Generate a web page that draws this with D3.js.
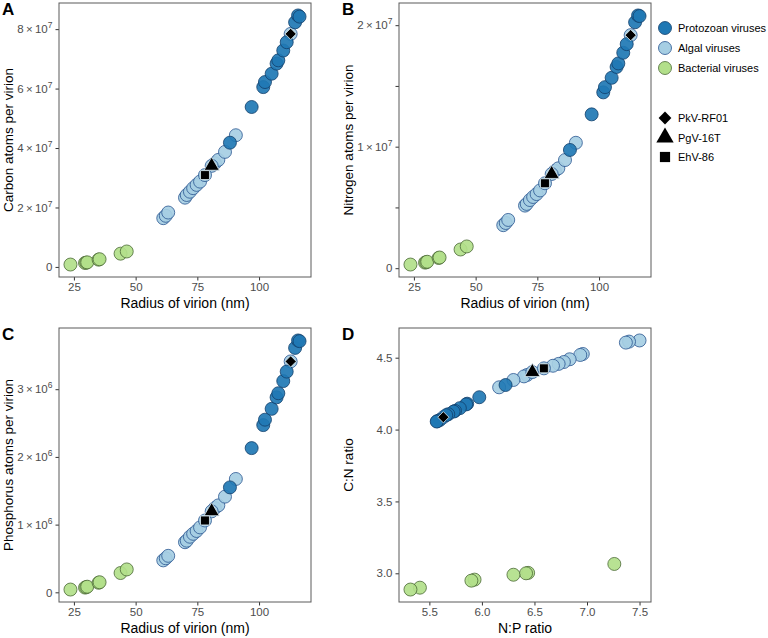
<!DOCTYPE html>
<html>
<head>
<meta charset="utf-8">
<script src="https://cdn.jsdelivr.net/npm/d3@7"></script>
<style>
  body { margin: 0; background: #fff; }
  svg { font-family: "Liberation Sans", Arial, sans-serif; }
  .tick text { fill: #4d4d4d; font-size: 11.5px; }
  .tick line { stroke: #333; }
</style>
</head>
<body>
<svg id="chart" width="768" height="638"></svg>
<script>
// one entry per virus
var group = [
  'Bacterial viruses','Bacterial viruses','Bacterial viruses','Bacterial viruses',
  'Bacterial viruses','Bacterial viruses','Bacterial viruses','Bacterial viruses',
  'Algal viruses','Algal viruses','Algal viruses','Algal viruses','Algal viruses',
  'Algal viruses','Algal viruses','Algal viruses','Algal viruses','Algal viruses',
  'Algal viruses','Algal viruses','Algal viruses',
  'Protozoan viruses','Protozoan viruses','Protozoan viruses','Protozoan viruses',
  'Protozoan viruses','Protozoan viruses','Protozoan viruses','Protozoan viruses',
  'Protozoan viruses','Protozoan viruses','Protozoan viruses','Protozoan viruses',
  'Algal viruses','Algal viruses','Algal viruses'
];
var strain = [
  null,null,null,null,null,null,null,null,
  null,null,null,null,null,null,null,null,null,null,null,null,null,
  null,null,null,null,null,null,null,null,null,null,null,null,
  'PkV-RF01','PgV-16T','EhV-86'
];
var radius = [
  23.6, 29.5, 30.0, 30.4, 35.0, 35.4, 43.9, 46.4,
  61.2, 62.2, 63.2, 70.0, 70.7, 72.0, 73.3, 74.7, 76.1, 82.1, 83.5, 86.2, 90.6,
  88.2, 97.0, 101.7, 102.4, 105.1, 107.1, 107.8, 109.8, 111.2, 114.6, 115.8, 116.4,
  112.8, 80.8, 78.1
];
var carbon = [
  8.0e5, 1.34e6, 1.44e6, 1.54e6, 2.45e6, 2.6e6, 4.46e6, 5.2e6,
  1.64e7, 1.72e7, 1.83e7, 2.33e7, 2.42e7, 2.53e7, 2.65e7, 2.76e7, 2.87e7, 3.49e7, 3.60e7, 3.87e7, 4.43e7,
  4.18e7, 5.38e7, 6.05e7, 6.22e7, 6.50e7, 6.84e7, 6.95e7, 7.28e7, 7.56e7, 8.23e7, 8.46e7, 8.42e7,
  7.84e7, 3.40e7, 3.09e7
];
var nitrogen = [
  3.0e5, 4.6e5, 4.9e5, 5.3e5, 8.4e5, 8.8e5, 1.54e6, 1.79e6,
  3.54e6, 3.72e6, 3.97e6, 5.15e6, 5.29e6, 5.61e6, 5.86e6, 6.1e6, 6.4e6, 8.0e6, 8.22e6, 8.9e6, 1.032e7,
  9.73e6, 1.266e7, 1.447e7, 1.49e7, 1.567e7, 1.656e7, 1.685e7, 1.773e7, 1.844e7, 2.024e7, 2.08e7, 2.075e7,
  1.918e7, 7.75e6, 6.99e6
];
var phosphorus = [
  4.1e4, 7.0e4, 7.6e4, 8.3e4, 1.41e5, 1.49e5, 2.85e5, 3.38e5,
  4.72e5, 5.03e5, 5.39e5, 7.4e5, 7.63e5, 8.21e5, 8.64e5, 9.06e5, 9.59e5, 1.244e6, 1.284e6, 1.413e6, 1.674e6,
  1.55e6, 2.13e6, 2.47e6, 2.55e6, 2.71e6, 2.88e6, 2.94e6, 3.12e6, 3.26e6, 3.61e6, 3.72e6, 3.71e6,
  3.41e6, 1.196e6, 1.061e6
];
var npRatio = [
  7.26, 6.44, 6.42, 6.30, 5.93, 5.90, 5.41, 5.32,
  7.50, 7.40, 7.37, 6.96, 6.936, 6.835, 6.78, 6.73, 6.676, 6.43, 6.40, 6.30, 6.164,
  6.225, 5.975, 5.86, 5.85, 5.79, 5.744, 5.73, 5.68, 5.66, 5.60, 5.575, 5.57,
  5.633, 6.48, 6.59
];
var cnRatio = [
  3.065, 3.003, 3.000, 2.99, 2.956, 2.949, 2.90, 2.887,
  4.62, 4.612, 4.605, 4.526, 4.519, 4.489, 4.47, 4.457, 4.444, 4.38, 4.37, 4.345, 4.294,
  4.31, 4.225, 4.18, 4.175, 4.149, 4.13, 4.125, 4.107, 4.10, 4.067, 4.058, 4.056,
  4.086, 4.40, 4.426
];

var groups = ['Protozoan viruses', 'Algal viruses', 'Bacterial viruses'];
var strains = ['PkV-RF01', 'PgV-16T', 'EhV-86'];

var radiusTicks = [25, 50, 75, 100];
var carbonTicks = [0, 2e7, 4e7, 6e7, 8e7];
var carbonTickLabels = ['0', '2×10^7', '4×10^7', '6×10^7', '8×10^7'];
var nitrogenTicks = [0, 5e6, 1e7, 1.5e7, 2e7];
var nitrogenTickLabels = ['0', '', '1×10^7', '', '2×10^7'];
var phosphorusTicks = [0, 1e6, 2e6, 3e6];
var phosphorusTickLabels = ['0', '1×10^6', '2×10^6', '3×10^6'];
var npTicks = [5.5, 6.0, 6.5, 7.0, 7.5];
var cnTicks = [3.0, 3.5, 4.0, 4.5];

var fill = d3.scaleOrdinal(groups, ['#1f78b4', '#a6cee3', '#b2df8a']);
var edge = d3.scaleOrdinal(groups, ['#123f6b', '#2a5690', '#4b6a36']);
var symbol = d3.scaleOrdinal(strains, [d3.symbolDiamond2, d3.symbolTriangle, d3.symbolSquare]);
var symbolSize = d3.scaleOrdinal(strains, [80, 100, 80]);

// ggplot-style 5% padding
function pad(ext) {
  var d = (ext[1] - ext[0]) * 0.05;
  return [ext[0] - d, ext[1] + d];
}

var rows = radius.map(function (r, i) {
  return { group: group[i], strain: strain[i], radius: r, C: carbon[i], N: nitrogen[i],
           P: phosphorus[i], np: npRatio[i], cn: cnRatio[i] };
});

var svg = d3.select('#chart');
var W = 252, H = 274;

var panels = [
  { tag: 'A', left: 59, top: 3, xv: 'radius', yv: 'C', xt: radiusTicks, yt: carbonTicks, yl: carbonTickLabels,
    xTitle: 'Radius of virion (nm)', yTitle: 'Carbon atoms per virion' },
  { tag: 'B', left: 399, top: 3, xv: 'radius', yv: 'N', xt: radiusTicks, yt: nitrogenTicks, yl: nitrogenTickLabels,
    xTitle: 'Radius of virion (nm)', yTitle: 'Nitrogen atoms per virion' },
  { tag: 'C', left: 59, top: 328, xv: 'radius', yv: 'P', xt: radiusTicks, yt: phosphorusTicks, yl: phosphorusTickLabels,
    xTitle: 'Radius of virion (nm)', yTitle: 'Phosphorus atoms per virion' },
  { tag: 'D', left: 399, top: 328, xv: 'np', yv: 'cn', xt: npTicks, yt: cnTicks, yl: cnTicks.map(d3.format('.1f')),
    xTitle: 'N:P ratio', yTitle: 'C:N ratio' }
];

// "8×10^7" -> text with a superscript
function writeLabel(sel, s) {
  sel.text(null);
  var parts = s.split('^');
  sel.append('tspan').text(parts[0].replace('×', '\u2009×\u2009'));
  if (parts[1]) {
    sel.append('tspan').attr('dy', -5).attr('font-size', 8.5).text(parts[1]);
  }
}

panels.forEach(function (p) {
  var x = d3.scaleLinear().domain(pad(d3.extent(rows, function (d) { return d[p.xv]; }))).range([p.left, p.left + W]);
  var y = d3.scaleLinear().domain(pad(d3.extent(rows, function (d) { return d[p.yv]; }))).range([p.top + H, p.top]);

  var g = svg.append('g');

  var xAxis = g.append('g')
    .attr('transform', 'translate(0,' + (p.top + H) + ')')
    .call(d3.axisBottom(x).tickValues(p.xt).tickSize(3.5).tickPadding(2.5)
      .tickFormat(p.xv === 'np' ? d3.format('.1f') : d3.format('d')));
  xAxis.select('.domain').remove();

  var yAxis = g.append('g')
    .attr('transform', 'translate(' + p.left + ',0)')
    .call(d3.axisLeft(y).tickValues(p.yt).tickSize(3.5).tickPadding(3).tickFormat(''));
  yAxis.select('.domain').remove();
  yAxis.selectAll('.tick text').each(function (d, i) {
    writeLabel(d3.select(this), String(p.yl[i]));
  });

  g.append('rect')
    .attr('x', p.left).attr('y', p.top).attr('width', W).attr('height', H)
    .attr('fill', 'none').attr('stroke', '#5a5a5a').attr('stroke-width', 1);

  var pts = g.append('g');
  // draw bacterial, then algal, then protozoan so the large ones sit on top
  ['Bacterial viruses', 'Algal viruses', 'Protozoan viruses'].forEach(function (k) {
    pts.selectAll(null)
      .data(rows.filter(function (d) { return d.group === k; }))
      .enter().append('circle')
      .attr('cx', function (d) { return x(d[p.xv]); })
      .attr('cy', function (d) { return y(d[p.yv]); })
      .attr('r', 6.5)
      .attr('fill', fill(k))
      .attr('fill-opacity', 0.92)
      .attr('stroke', edge(k))
      .attr('stroke-width', 0.8);
  });

  pts.selectAll(null)
    .data(rows.filter(function (d) { return d.strain; }))
    .enter().append('path')
    .attr('transform', function (d) { return 'translate(' + x(d[p.xv]) + ',' + y(d[p.yv]) + ')'; })
    .attr('d', function (d) { return d3.symbol(symbol(d.strain), symbolSize(d.strain))(); })
    .attr('fill', '#000')
    .attr('stroke', '#dcecf5')
    .attr('stroke-width', 0.8);

  g.append('text')
    .attr('x', p.left + W / 2).attr('y', p.top + H + 31)
    .attr('text-anchor', 'middle').attr('font-size', 14)
    .text(p.xTitle);

  g.append('text')
    .attr('transform', 'translate(' + (p.left - 46) + ',' + (p.top + H / 2) + ') rotate(-90)')
    .attr('text-anchor', 'middle').attr('font-size', 13.5)
    .text(p.yTitle);

  g.append('text')
    .attr('x', p.left - 57).attr('y', p.top + 12)
    .attr('font-size', 17).attr('font-weight', 'bold')
    .text(p.tag);
});

// legend
var legend = svg.append('g').attr('font-size', 11);
groups.forEach(function (k, i) {
  var cy = 28 + i * 20;
  legend.append('circle').attr('cx', 665).attr('cy', cy).attr('r', 6.5)
    .attr('fill', fill(k)).attr('stroke', edge(k)).attr('stroke-width', 0.8);
  legend.append('text').attr('x', 678).attr('y', cy + 4).text(k);
});
strains.forEach(function (s, i) {
  var cy = 118 + i * 19.5;
  legend.append('path')
    .attr('transform', 'translate(665,' + cy + ')')
    .attr('d', d3.symbol(symbol(s), symbolSize(s) * 1.3)());
  legend.append('text').attr('x', 678).attr('y', cy + 4).text(s);
});
</script>
</body>
</html>
